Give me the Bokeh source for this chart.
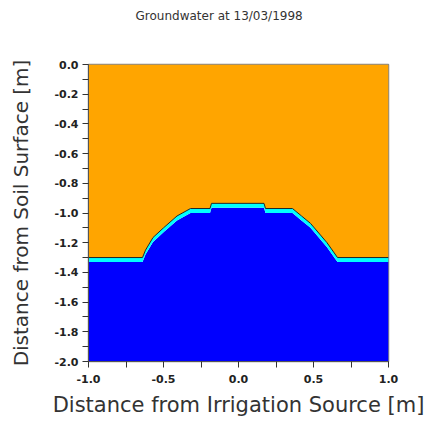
from bokeh.plotting import figure
from bokeh.models import Range1d, FixedTicker, Title
from bokeh.embed import file_html
from bokeh.resources import INLINE

title_text = "Groundwater at 13/03/1998"
x_label = "Distance from Irrigation Source [m]"
y_label = "Distance from Soil Surface [m]"

profile_x = [-1.0, -0.64, -0.62, -0.57, -0.50, -0.41, -0.32, -0.19, -0.18,
             0.17, 0.18, 0.36, 0.42, 0.48, 0.59, 0.66, 1.0]
water_level = [-1.30, -1.30, -1.25, -1.165, -1.10, -1.02, -0.97, -0.97, -0.935,
               -0.935, -0.97, -0.97, -1.02, -1.07, -1.20, -1.30, -1.30]
fringe = 0.03
surface = 0.0
bottom = -2.0

x_ticks = [-1.0, -0.5, 0.0, 0.5, 1.0]
x_minor = [-0.75, -0.25, 0.25, 0.75]
y_ticks = [0.0, -0.2, -0.4, -0.6, -0.8, -1.0, -1.2, -1.4, -1.6, -1.8, -2.0]
y_minor = [-0.1, -0.3, -0.5, -0.7, -0.9, -1.1, -1.3, -1.5, -1.7, -1.9]

W, H = 432, 421
p = figure(width=W, height=H, output_backend="svg", toolbar_location=None,
           x_range=Range1d(-1.0, 1.0), y_range=Range1d(bottom, surface),
           min_border_left=88, min_border_right=44, min_border_top=64,
           min_border_bottom=60, title=None)

spacer = Title(text=" ", text_font_size="31px", standoff=0)
p.add_layout(spacer, "above")
main_title = Title(text=title_text, text_font="DejaVu Sans", text_font_size="12px",
                   text_font_style="normal", align="left", text_color="#333333",
                   offset=47)
p.add_layout(main_title, "above")

fringe_lower = [w - fringe for w in water_level]
p.varea(x=profile_x, y1=water_level, y2=[surface] * len(profile_x), fill_color="#FFA500")
p.varea(x=profile_x, y1=[bottom] * len(profile_x), y2=fringe_lower, fill_color="#0000FF")
p.varea(x=profile_x, y1=fringe_lower, y2=water_level, fill_color="#00FFFF")
p.line(x=profile_x, y=water_level, line_color="#222222", line_width=1)

p.grid.visible = False
p.background_fill_color = "white"
p.outline_line_color = "#888888"
p.outline_line_width = 1.5

p.xaxis.ticker = FixedTicker(ticks=x_ticks, minor_ticks=x_minor)
p.yaxis.ticker = FixedTicker(ticks=y_ticks, minor_ticks=y_minor)
p.yaxis.major_label_overrides = {v: f"{v:.1f}" for v in y_ticks}
p.xaxis.major_label_overrides = {v: f"{v:.1f}" for v in x_ticks}

for ax in (p.xaxis, p.yaxis):
    ax.axis_line_color = "#555555"
    ax.major_tick_line_color = "#333333"
    ax.minor_tick_line_color = "#333333"
    ax.major_tick_out = 6
    ax.major_tick_in = 0
    ax.minor_tick_out = 6
    ax.minor_tick_in = 0
    ax.major_label_text_font = "DejaVu Sans"
    ax.major_label_text_font_size = "11px"
    ax.major_label_text_font_style = "bold"
    ax.major_label_text_color = "#222222"
    ax.axis_label_text_font = "DejaVu Sans"
    ax.axis_label_text_font_size = "20px"
    ax.axis_label_text_font_style = "normal"
    ax.axis_label_text_color = "#333333"

p.xaxis.axis_label_text_font_size = "21px"
p.xaxis.axis_label = x_label
p.yaxis.axis_label = y_label
p.xaxis.major_label_standoff = 7
p.yaxis.major_label_standoff = 4
p.xaxis.axis_label_standoff = 7
p.yaxis.axis_label_standoff = 18

open("out.html", "w").write(file_html(p, INLINE))
